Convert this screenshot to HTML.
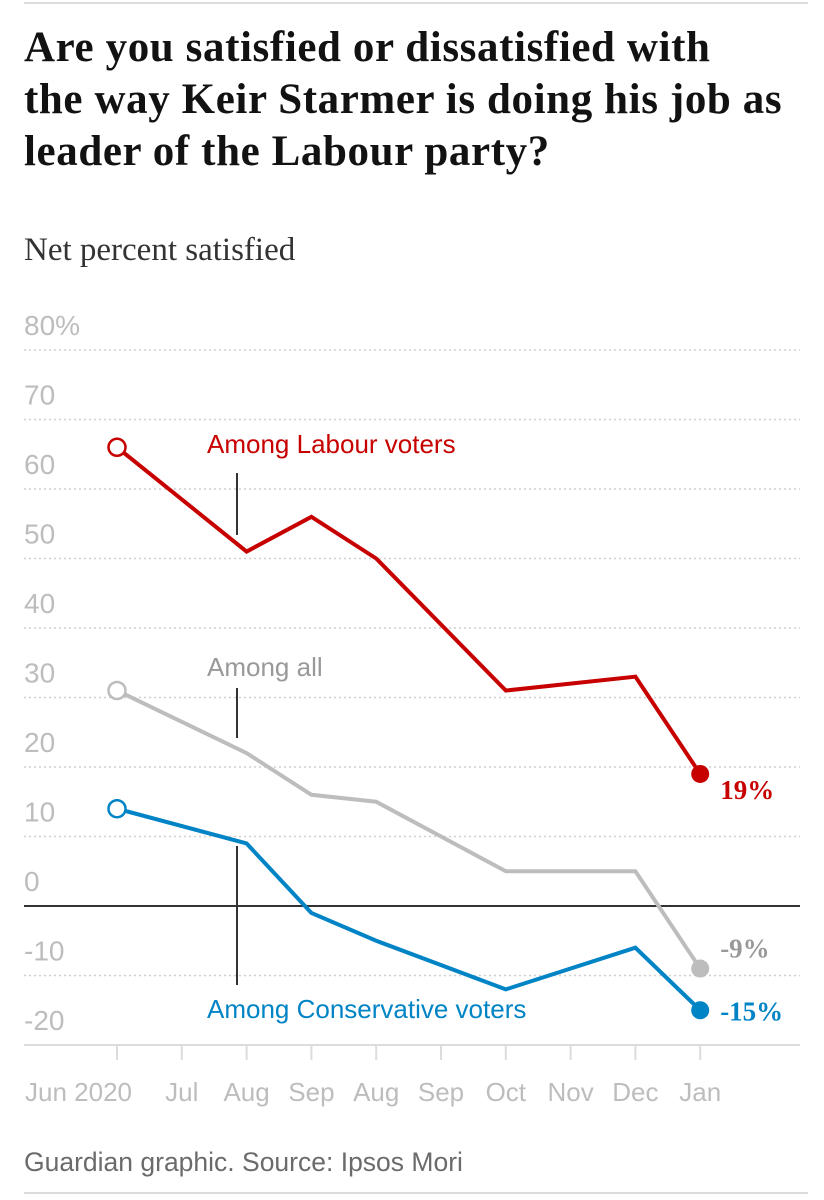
<!DOCTYPE html>
<html><head><meta charset="utf-8"><style>
body{margin:0;width:824px;height:1200px;background:#fff;overflow:hidden;font-family:"Liberation Sans",sans-serif;}
#title{position:absolute;left:24px;top:22px;width:800px;font-family:"Liberation Serif",serif;font-weight:bold;font-size:43px;line-height:52px;color:#121212;margin:0;letter-spacing:0.6px;white-space:nowrap}
#sub{position:absolute;left:24px;top:232px;font-family:"Liberation Serif",serif;font-size:33px;color:#333}
svg{position:absolute;left:0;top:0}
</style></head><body>
<h1 id="title">Are you satisfied or dissatisfied with<br>the way Keir Starmer is doing his job as<br>leader of the Labour party?</h1>
<div id="sub">Net percent satisfied</div>
<svg id="chart" width="824" height="1200"></svg>
<script>
const categories=["Jun 2020","Jul","Aug","Sep","Aug","Sep","Oct","Nov","Dec","Jan"];
const labour=[66,null,51,56,50,null,31,null,33,19];
const all=[31,null,22,16,15,null,5,null,5,-9];
const cons=[14,null,9,-1,-5,null,-12,null,-6,-15];
const yTicks=[80,70,60,50,40,30,20,10,0,-10,-20];
const yTickLabels=["80%","70","60","50","40","30","20","10","0","-10","-20"];
const endLabels=["19%","-9%","-15%"];
const svg=document.getElementById('chart');const NS="http://www.w3.org/2000/svg";
const x=i=>117+i*64.8;const y=v=>906-v*6.95;
function mk(t,a,p){const e=document.createElementNS(NS,t);for(const k in a)e.setAttribute(k,a[k]);(p||svg).appendChild(e);return e;}
yTicks.forEach((v,i)=>{
 if(v!==0&&v!==-20){const g=mk('line',{x1:24,x2:800,y1:y(v),y2:y(v),stroke:'#cfcfcf','stroke-dasharray':'2,3','stroke-width':1.5});
 
 }
 const t=mk('text',{x:24,y:y(v)-15,fill:'#bdbdbd','font-size':28});t.textContent=yTickLabels[i];
 
 
});
const base=mk('line',{x1:24,x2:800,y1:y(-20),y2:y(-20),stroke:'#dcdcdc','stroke-width':2});


categories.forEach((c,i)=>{
 const tk=mk('line',{x1:x(i),x2:x(i),y1:y(-20),y2:y(-20)+15,stroke:'#dcdcdc','stroke-width':2});
 
 
 const t=mk('text',{x:i==0?25:x(i),y:1101,fill:'#bdbdbd','font-size':26,'text-anchor':i==0?'start':'middle'});t.textContent=c;
 
 
});
[[473,535],[688,738],[846,985]].forEach(r=>{const l=mk('line',{x1:237,x2:237,y1:r[0],y2:r[1],stroke:'#333','stroke-width':2});
 
 });
const zero=mk('line',{x1:24,x2:800,y1:y(0),y2:y(0),stroke:'#333','stroke-width':2});


const series=[[labour,'#c70000','labour'],[all,'#bdbdbd','all'],[cons,'#0084c6','conservative']];
series.forEach((s,si)=>{
 const pts=s[0].map((v,i)=>v===null?null:[x(i),y(v)]).filter(p=>p);
 const pl=mk('polyline',{points:pts.map(p=>p.join(',')).join(' '),fill:'none',stroke:s[1],'stroke-width':4,'stroke-linejoin':'miter'});
 
 
 const f=pts[0],l=pts[pts.length-1];
 const c1=mk('circle',{cx:f[0],cy:f[1],r:8.5,fill:'#fff',stroke:s[1],'stroke-width':2.5});
 
 
 const c2=mk('circle',{cx:l[0],cy:l[1],r:9,fill:s[1]});
 
 
 const t=mk('text',{x:l[0]+20,y:l[1]+(si==0?25:si==1?-11:10),fill:si==1?'#999':s[1],'font-size':27,'font-weight':'bold','font-family':'Liberation Serif, serif'});t.textContent=endLabels[si];
 
 
});
[["Among Labour voters",207,453,'#c70000'],["Among all",207,676,'#999'],["Among Conservative voters",207,1018,'#0084c6']].forEach(a=>{
 const t=mk('text',{x:a[1],y:a[2],fill:a[3],'font-size':26});t.textContent=a[0];
 
 
});
const src=mk('text',{x:24,y:1171,fill:'#6b6b6b','font-size':26.5});src.textContent="Guardian graphic. Source: Ipsos Mori";


const r=mk('line',{x1:24,x2:808,y1:1193,y2:1193,stroke:'#dcdcdc','stroke-width':2});


const r2=mk('line',{x1:24,x2:808,y1:3,y2:3,stroke:'#dcdcdc','stroke-width':2});


</script>
</body></html>
